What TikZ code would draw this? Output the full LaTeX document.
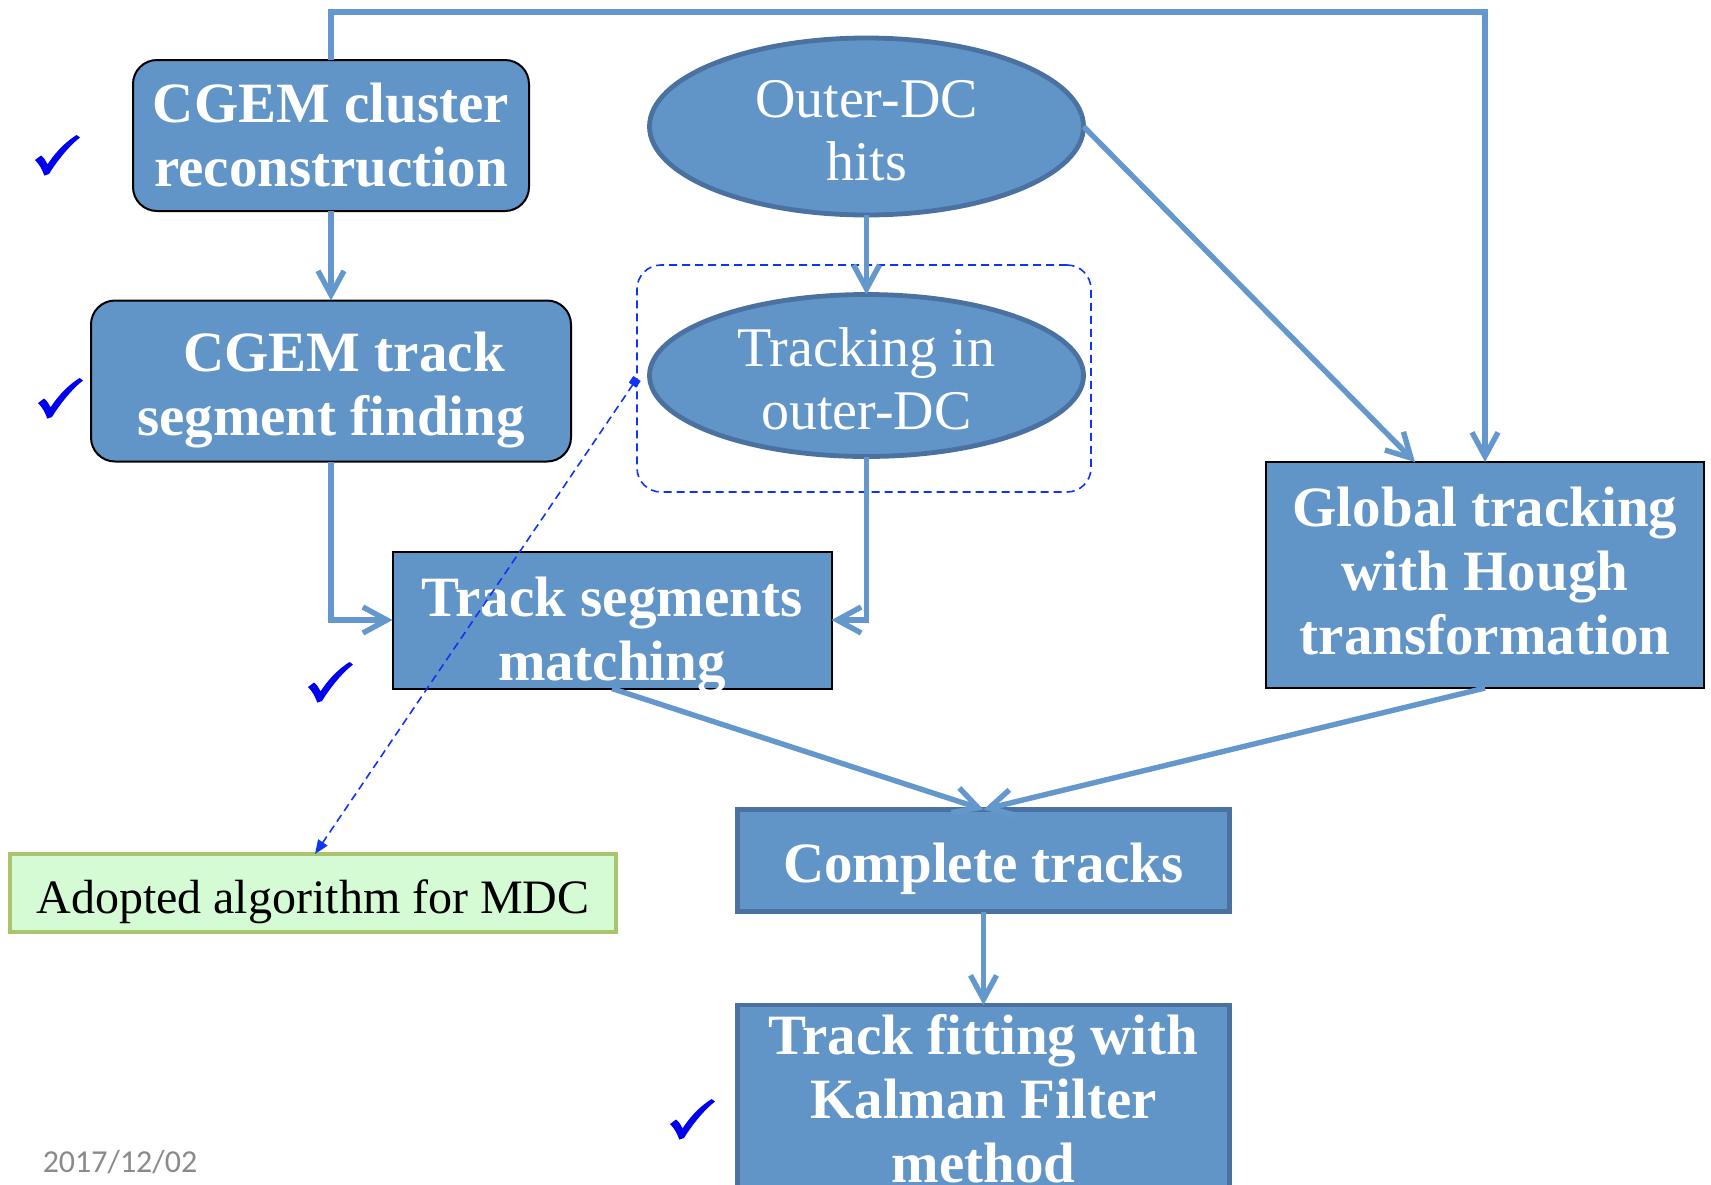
\documentclass[tikz,border=0pt]{standalone}
\usepackage{fontspec}
\setmainfont{Liberation Serif}
\newfontfamily\datefont{Carlito}
\usetikzlibrary{arrows.meta,shapes.geometric}
\definecolor{boxfill}{HTML}{6195C8}
\definecolor{connc}{HTML}{6497CC}
\definecolor{darkb}{HTML}{4A71A0}
\definecolor{dashblue}{HTML}{1034F4}
\definecolor{notefill}{HTML}{D4FBD4}
\definecolor{noteline}{HTML}{A9C46C}
\definecolor{tickblue}{HTML}{0000F0}
\definecolor{dategray}{HTML}{8A8A8A}
\begin{document}
\begin{tikzpicture}[x=0.5pt,y=-0.5pt,
  every node/.style={inner sep=0pt, outer sep=0pt},
  bluebox/.style={rectangle, fill=boxfill},
  roundbox/.style={bluebox, draw=black, line width=1pt, rounded corners=12pt},
  blackbox/.style={bluebox, draw=black, line width=1pt},
  darkbox/.style={bluebox, draw=darkb, line width=2.4pt},
  btext/.style={text=white, align=center, font=\fontsize{28.5}{32}\selectfont\bfseries},
  ell/.style={ellipse, fill=boxfill, draw=darkb, line width=2.4pt},
  etext/.style={text=white, align=center, font=\fontsize{28}{31.5}\selectfont},
  conn/.style={draw=connc, line width=2.7pt, -{Straight Barb[length=12pt,width=13pt]}},
  grpbox/.style={draw=dashblue, line width=0.8pt, dash pattern=on 4pt off 2.5pt,
    rounded corners=12pt},
  notebox/.style={rectangle, fill=notefill, draw=noteline, line width=2.2pt},
  ntext/.style={text=black, font=\fontsize{24}{28}\selectfont},
  ptr/.style={draw=dashblue, line width=0.8pt, dash pattern=on 4pt off 2.5pt,
    {Square[length=4pt,width=4.5pt]}-{Triangle[length=7pt,width=5.5pt]}},
  chk/.pic={\fill[tickblue] (0,25) -- (6,20.5) .. controls (9,23) .. (12.6,29.3)
      .. controls (22,15) and (32,6) .. (41.6,0) -- (45,2.5)
      .. controls (34,11) and (22,26) .. (14,39) -- (9.3,40.6)
      .. controls (7,34) and (4,29) .. cycle;},
]
\useasboundingbox (0,0) rectangle (1711,1184);
\clip (0,0) rectangle (1711,1184);

% shapes
\node[roundbox, minimum width=198pt, minimum height=75.5pt] (cl) at (331,135.5) {};
\node[roundbox, minimum width=240pt, minimum height=80.5pt] (cgt) at (331,381) {};
\node[blackbox, minimum width=219.5pt, minimum height=68.5pt] (mat) at (612,620) {};
\node[grpbox, minimum width=227pt, minimum height=113.5pt] (grp) at (864,378.5) {};
\node[ell, minimum width=217pt, minimum height=88.5pt] (odc) at (866.5,126.5) {};
\node[ell, minimum width=217pt, minimum height=81pt] (trk) at (866.5,375.5) {};
\node[blackbox, minimum width=219pt, minimum height=113pt] (glob) at (1485,575) {};
\node[darkbox, minimum width=246pt, minimum height=51pt] (comp) at (983.5,860.5) {};
\node[darkbox, minimum width=246pt, minimum height=94pt] (fit) at (983.5,1099) {};
\node[notebox, minimum width=303pt, minimum height=39pt] (adopt) at (313,893) {};

% texts
\node[btext] (clT) at (331,135.5) {CGEM cluster\\reconstruction};
\node[btext] (cgtT) at (331,390) {\hspace*{13pt}CGEM track\\segment finding};
\node[btext] (matT) at (612,635) {Track segments\\matching};
\node[etext] (odcT) at (866.5,131) {Outer-DC\\hits};
\node[etext] (trkT) at (866.5,379) {Tracking in\\outer-DC};
\node[btext] (globT) at (1485,570.5) {Global tracking\\with Hough\\transformation};
\node[btext] (compT) at (983.5,869) {Complete tracks};
\node[btext] (fitT) at (983.5,1099) {Track fitting with\\Kalman Filter\\method};
\node[ntext] (adoptT) at (313,902) {Adopted algorithm for MDC};

% check marks
\pic at (35,135) {chk};
\pic at (38,378) {chk};
\pic at (308,662) {chk};
\pic at (670,1099) {chk};

% date
\node[text=dategray, font=\datefont\fontsize{16}{18}\selectfont] (date) at (120,1162) {2017/12/02};

% connectors
\coordinate (topy) at (0,12);
\draw[conn] (cl.north) -- (cl.north |- topy) -- (glob.north |- topy) -- (glob.north);
\draw[conn] (cl.south) -- (cgt.north);
\draw[conn] (cgt.south) |- (mat.west);
\draw[conn] (odc.south) -- (trk.north);
\draw[conn] (trk.south) |- (mat.east);
\draw[conn] (odc.east) -- ([xshift=-35pt]glob.north);
\draw[conn] (mat.south) -- (comp.north);
\draw[conn] (glob.south) -- (comp.north);
\draw[conn] (comp.south) -- (fit.north);
\draw[ptr] (grp.west) -- ([xshift=1pt]adopt.north);
\end{tikzpicture}
\end{document}
